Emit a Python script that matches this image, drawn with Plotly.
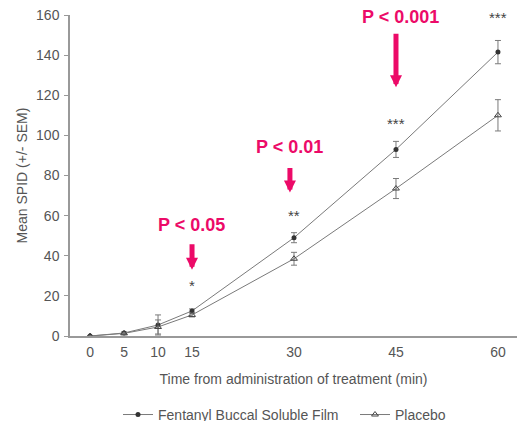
import plotly.graph_objects as go

time_min = [0, 5, 10, 15, 30, 45, 60]
fentanyl = [0, 1.5, 5.5, 12.5, 49, 93, 141.5]
fentanyl_sem = [0, 0.5, 5, 1, 2.5, 4, 5.8]
placebo = [0, 1.3, 4.5, 10.5, 38.5, 73.5, 110]
placebo_sem = [0, 0.5, 3.5, 1, 3.2, 5, 7.8]

x_ticks = [0, 5, 10, 15, 30, 45, 60]
y_ticks = [0, 20, 40, 60, 80, 100, 120, 140, 160]

sig_x = [15, 30, 45, 60]
sig_y = [25, 60, 106, 159]
sig_text = ["*", "**", "***", "***"]

p_labels = ["P < 0.05", "P < 0.01", "P < 0.001"]

GRAY = "#555555"
LINE = "#7a7a7a"
MAG = "#EC0A68"
FONT = "Liberation Sans, Arial, sans-serif"

fig = go.Figure()
fig.add_trace(go.Scatter(
    x=time_min, y=fentanyl, mode="lines+markers", name="Fentanyl Buccal Soluble Film",
    line=dict(color=LINE, width=1),
    marker=dict(symbol="circle", size=5, color="#333333"),
    error_y=dict(type="data", array=fentanyl_sem, color=LINE, thickness=1, width=3),
    legend="legend",
))
fig.add_trace(go.Scatter(
    x=time_min, y=placebo, mode="lines+markers", name="Placebo",
    line=dict(color=LINE, width=1),
    marker=dict(symbol="triangle-up-open", size=6, color="#444444", line=dict(width=1)),
    error_y=dict(type="data", array=placebo_sem, color=LINE, thickness=1, width=3),
    legend="legend2",
))

# significance stars
for sx, sy, st in zip(sig_x, sig_y, sig_text):
    fig.add_annotation(x=sx, y=sy, text=st, showarrow=False,
                       font=dict(size=15, color="#444444", family=FONT))

AW = 5
AS = 0.48
# P-value labels and arrows
fig.add_annotation(x=14.9, y=55.5, text="<b>" + p_labels[0] + "</b>", showarrow=False,
                   font=dict(size=18, color=MAG, family=FONT))
fig.add_annotation(x=15, y=33, ax=0, ay=-27, text="", showarrow=True,
                   arrowhead=2, arrowsize=AS, arrowwidth=AW, arrowcolor=MAG)

fig.add_annotation(x=29.3, y=94, text="<b>" + p_labels[1] + "</b>", showarrow=False,
                   font=dict(size=18, color=MAG, family=FONT))
fig.add_annotation(x=29.4, y=71.5, ax=0, ay=-26, text="", showarrow=True,
                   arrowhead=2, arrowsize=AS, arrowwidth=AW, arrowcolor=MAG)

fig.add_annotation(x=45.7, y=159, text="<b>" + p_labels[2] + "</b>", showarrow=False,
                   font=dict(size=18, color=MAG, family=FONT))
fig.add_annotation(x=45, y=124, ax=0, ay=-55, text="", showarrow=True,
                   arrowhead=2, arrowsize=AS, arrowwidth=AW, arrowcolor=MAG)
fig.add_annotation(x=56.6, y=161, ax=-25, ay=0, text="", showarrow=True,
                   arrowhead=2, arrowsize=AS, arrowwidth=AW, arrowcolor=MAG)

legend_style = dict(orientation="h", xanchor="left", y=-0.196, yanchor="top",
                    font=dict(size=14, color=GRAY), itemwidth=30,
                    bgcolor="rgba(0,0,0,0)")

fig.update_layout(
    width=520, height=421,
    margin=dict(l=70, r=3, t=15, b=85, autoexpand=False),
    plot_bgcolor="white", paper_bgcolor="white",
    font=dict(family=FONT, size=14, color=GRAY),
    showlegend=True,
    legend=dict(x=0.1074, **legend_style),
    legend2=dict(x=0.6376, **legend_style),
    xaxis=dict(range=[-2.95, 62.8], tickvals=x_ticks, ticks="", automargin=False,
               ticklabelstandoff=2,
               showline=True, linecolor="#999999", linewidth=1.5, showgrid=False,
               zeroline=False,
               title=dict(text="Time from administration of treatment (min)",
                          font=dict(size=14, color=GRAY), standoff=16)),
    yaxis=dict(range=[0, 160], tickvals=y_ticks, ticks="outside", ticklen=4,
               tickcolor="#999999", showline=True, linecolor="#999999", linewidth=1.5,
               showgrid=False, zeroline=False, automargin=False, ticklabelstandoff=2,
               title=dict(text="Mean SPID (+/- SEM)", font=dict(size=14, color=GRAY), standoff=5)),
)

fig.write_html("out.html", config={"displayModeBar": False},
               post_script="document.body.style.margin='0';")
